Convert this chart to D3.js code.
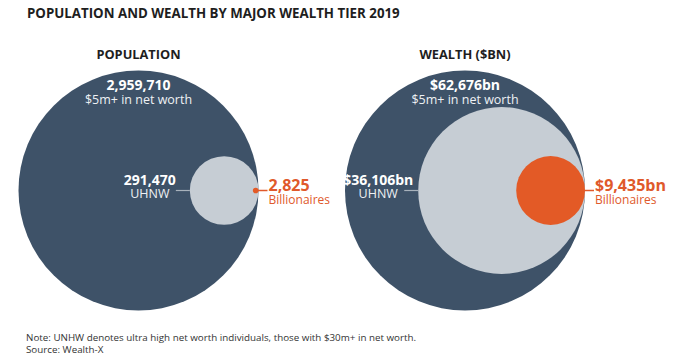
<!DOCTYPE html>
<html>
<head>
<meta charset="utf-8">
<script src="https://cdn.jsdelivr.net/npm/d3@7.9.0/dist/d3.min.js"></script>
<style>
  body { margin: 0; background: #fff; }
  svg { display: block; font-family: 'Open Sans', sans-serif; }
</style>
</head>
<body>
<div id="chart"></div>
<script>
// Data
const panels = ['POPULATION', 'WEALTH ($BN)'];
const tiers = ['$5m+ in net worth', 'UHNW', 'Billionaires'];
const population = [2959710, 291470, 2825];
const wealth = [62676, 36106, 9435];

const fmtPop = d3.format(',');
const fmtWealth = d => '$' + d3.format(',')(d) + 'bn';

const width = 684, height = 362;
const colors = ['#3e5268', '#c6cdd4', '#e35a26'];
const orangeText = '#e0592b';

const svg = d3.select('#chart').append('svg')
  .attr('width', width)
  .attr('height', height);

// Title
svg.append('text')
  .attr('x', 27).attr('y', 18)
  .attr('font-size', 13.3).attr('font-weight', 700)
  .attr('fill', '#1e1e1e')
  .text('POPULATION AND WEALTH BY MAJOR WEALTH TIER 2019');

const xPanel = d3.scalePoint().domain(panels).range([138.5, 465]);
const cy = 190.5;
const R = 120;

function drawPanel(name, values, fmt, exponent) {
  const cx = xPanel(name);
  // radius scale (circles nested, tangent on the right)
  const r = d3.scalePow().exponent(exponent).domain([0, values[0]]).range([0, R]);
  const g = svg.append('g');

  g.append('text')
    .attr('x', cx).attr('y', 59)
    .attr('text-anchor', 'middle')
    .attr('font-size', 12.8).attr('font-weight', 700)
    .attr('fill', '#1e1e1e')
    .text(name);

  g.selectAll('circle')
    .data(values)
    .join('circle')
    .attr('cx', d => cx + R - r(d))
    .attr('cy', cy)
    .attr('r', d => r(d))
    .attr('fill', (d, i) => colors[i]);

  // top tier label
  g.append('text')
    .attr('x', cx).attr('y', 89.5)
    .attr('text-anchor', 'middle')
    .attr('font-size', 14).attr('font-weight', 700)
    .attr('fill', '#fff')
    .text(fmt(values[0]));
  g.append('text')
    .attr('x', cx).attr('y', 104)
    .attr('text-anchor', 'middle')
    .attr('font-size', 12.5)
    .attr('fill', '#eef1f4')
    .text(tiers[0]);

  // UHNW label
  const innerLeft = cx + R - 2 * r(values[1]);
  g.append('line')
    .attr('x1', innerLeft - 14).attr('x2', innerLeft)
    .attr('y1', cy).attr('y2', cy)
    .attr('stroke', '#a8b2bc').attr('stroke-width', 1.2);
  g.append('text')
    .attr('x', innerLeft - 40).attr('y', 184.5)
    .attr('text-anchor', 'middle')
    .attr('font-size', 14).attr('font-weight', 700)
    .attr('fill', '#fff')
    .text(fmt(values[1]));
  g.append('text')
    .attr('x', innerLeft - 40).attr('y', 198)
    .attr('text-anchor', 'middle')
    .attr('font-size', 12.5)
    .attr('fill', '#eef1f4')
    .text(tiers[1]);

  // Billionaires label
  const outerRight = cx + R;
  g.append('line')
    .attr('x1', outerRight - 1).attr('x2', outerRight + 9)
    .attr('y1', cy).attr('y2', cy)
    .attr('stroke', orangeText).attr('stroke-width', 1.5);
  g.append('text')
    .attr('x', outerRight + 10).attr('y', 190.5)
    .attr('font-size', 16).attr('font-weight', 700)
    .attr('fill', orangeText)
    .text(fmt(values[2]));
  g.append('text')
    .attr('x', outerRight + 10).attr('y', 203.5)
    .attr('font-size', 12)
    .attr('fill', orangeText)
    .text(tiers[2]);
}

drawPanel(panels[0], population, fmtPop, 0.54);
drawPanel(panels[1], wealth, fmtWealth, 0.66);

// Footnote
const notes = [
  'Note: UNHW denotes ultra high net worth individuals, those with $30m+ in net worth.',
  'Source: Wealth-X'
];
svg.append('g').selectAll('text')
  .data(notes)
  .join('text')
  .attr('x', 26)
  .attr('y', (d, i) => 341 + i * 11.5)
  .attr('font-size', 9.8)
  .attr('fill', '#333')
  .text(d => d);
</script>
</body>
</html>
